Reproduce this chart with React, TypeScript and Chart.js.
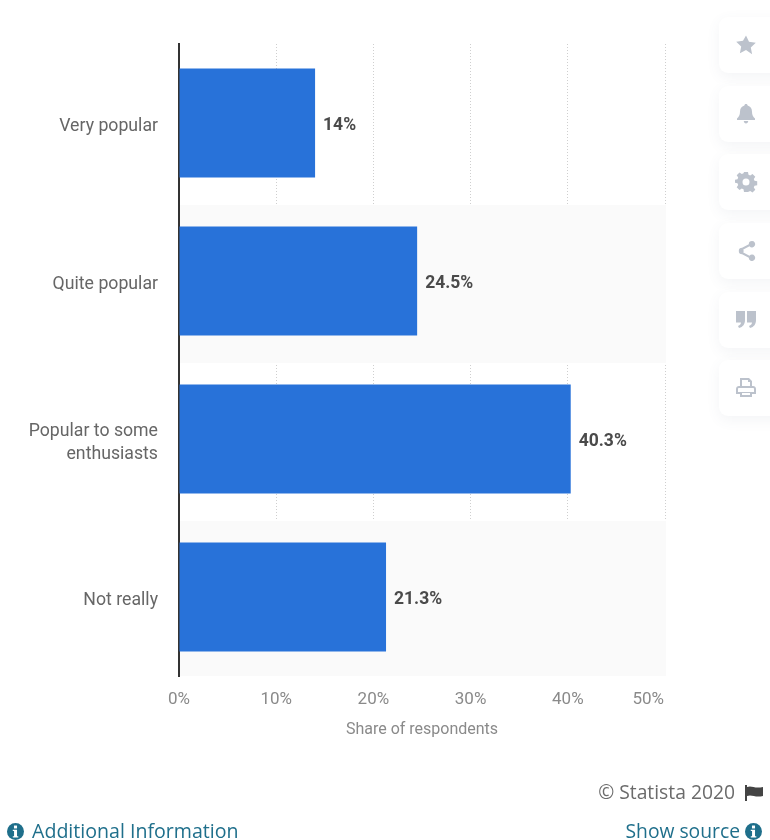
import React, { useEffect, useRef } from "react";
import { Chart, registerables } from "chart.js";

Chart.register(...registerables);

const categories: (string | string[])[] = ["Very popular", "Quite popular", ["Popular to some", "enthusiasts"], "Not really"];
const shares = [14, 24.5, 40.3, 21.3];
const shareLabels = ["14%", "24.5%", "40.3%", "21.3%"];
const axisTitle = "Share of respondents";

const BLUE = "#2872d9";
const TICK = "#8a8a8a";

const overlayPlugin = {
  id: "overlay",
  beforeDraw(chart: any) {
    const { x, y } = chart.scales;
    // y labels sit a little below the bar centres; the last x label ends at the plot edge
    const yItems = y.getLabelItems(chart.chartArea);
    if (!yItems.__moved) {
      yItems.__moved = true;
      yItems.forEach((it: any) => {
        it.options.translation[1] += 4;
      });
    }
    const xItems = x.getLabelItems(chart.chartArea);
    if (!xItems.__moved) {
      xItems.__moved = true;
      const last = xItems[xItems.length - 1];
      last.options.textAlign = "right";
      last.options.translation[0] = x.right - 1;
    }
  },
  beforeDatasetsDraw(chart: any) {
    const { ctx, scales } = chart;
    const y = scales.y;
    const x = scales.x;
    const step = y.getPixelForValue(1) - y.getPixelForValue(0);
    ctx.save();
    ctx.fillStyle = "#fafafa";
    [1, 3].forEach((i) => {
      const c = y.getPixelForValue(i);
      const top = c + 3 - step / 2;
      const bottom = Math.min(c + 3 + step / 2, y.bottom);
      ctx.fillRect(x.left + 1, top, x.right - x.left, bottom - top);
    });
    ctx.restore();
  },
  afterDatasetsDraw(chart: any) {
    const { ctx, scales } = chart;
    const x = scales.x;
    const y = scales.y;
    ctx.save();
    ctx.fillStyle = "#4a4a4a";
    ctx.font = "bold 17.5px Roboto";
    ctx.textAlign = "left";
    ctx.textBaseline = "middle";
    shares.forEach((v, i) => {
      ctx.fillText(shareLabels[i], x.getPixelForValue(v) + 8, y.getPixelForValue(i) + 3);
    });
    ctx.restore();
  },
};

const cardTops = [17, 86, 154, 223, 292, 360];
const iconColor = "#bcc2cc";
const icons: React.ReactNode[] = [
  <path d="M10 0.5l3 6.3 6.8.9-5 4.7 1.3 6.8L10 15l-6.1 3.2 1.3-6.8-5-4.7 6.8-.9z" />,
  <path d="M10 0c1 0 1.6.7 1.6 1.6 3 .8 4.4 3.2 4.4 6.2 0 3.6 1.2 5 3 6.7v1.5H1v-1.5c1.800-1.700 3-3.100 3-6.700 0-3 1.400-5.400 4.400-6.200C8.400.7 9 0 10 0zM7.800 17h4.400c0 1.400-1 2.500-2.200 2.500S7.800 18.400 7.800 17z" />,
  <path fillRule="evenodd" d="M8 0h4l.5 2.700 1.700.7 2.300-1.500 2.800 2.800-1.500 2.300.7 1.700 2.700.5v4l-2.700.5-.7 1.700 1.500 2.300-2.800 2.800-2.300-1.500-1.700.7L12 20H8l-.5-2.700-1.700-.7-2.300 1.500L.7 15.300l1.500-2.300-.7-1.700L-1 10.800v-3l2.500-.5.700-1.700L.7 3.300 3.500.5l2.300 1.500 1.700-.7zM10 6.500a3.500 3.500 0 1 0 0 7 3.500 3.500 0 0 0 0-7z" />,
  <path d="M16 0a3.200 3.200 0 1 1-2.500 5.200L7.300 8.500a3.300 3.300 0 0 1 0 3l6.200 3.300A3.200 3.200 0 1 1 12.800 17v-.2l-6.700-3.500a3.300 3.300 0 1 1 0-6.600l6.700-3.500V3.200A3.200 3.200 0 0 1 16 0z" />,
  <path d="M0 1h9v9c0 4-2 7-6 8l-1-2c2-.7 3-2 3-3.500H0zM11 1h9v9c0 4-2 7-6 8l-1-2c2-.7 3-2 3-3.500h-5z" />,
  <path fillRule="evenodd" d="M4 0h9l3 3v5h1c1.700 0 3 1.300 3 3v5h-4v3H4v-3H0v-5c0-1.700 1.300-3 3-3h1zM6 2v6h8V4h-2V2zM2 11v3h16v-3c0-.6-.4-1-1-1H3c-.6 0-1 .4-1 1zM6 15v2h8v-2z" />,
];

const infoIcon = (
  <svg width="17" height="17" viewBox="0 0 20 20" style={{ display: "block" }}>
    <circle cx="10" cy="10" r="10" fill="#1f6f8b" />
    <rect x="8.200" y="3" width="3.600" height="3.400" fill="#fff" />
    <path d="M6.800 8h5v7.500h1.500V17H6.800v-1.500h1.500V9.500H6.800z" fill="#fff" />
  </svg>
);

const footerText: React.CSSProperties = {
  position: "absolute",
  fontFamily: "'Open Sans', sans-serif",
  whiteSpace: "nowrap",
  lineHeight: "24px",
};

export default function App() {
  const ref = useRef<HTMLCanvasElement>(null);

  useEffect(() => {
    document.body.style.margin = "0";
    const chart = new Chart(ref.current!, {
      type: "bar",
      data: {
        labels: categories as any,
        datasets: [
          {
            data: shares,
            backgroundColor: BLUE,
            borderWidth: 0,
            barPercentage: 0.69,
            categoryPercentage: 1,
          },
        ],
      },
      plugins: [overlayPlugin],
      options: {
        indexAxis: "y",
        animation: false,
        responsive: false,
        devicePixelRatio: 1,
        layout: { padding: { top: 44, right: 105, left: 0, bottom: 100 } },
        plugins: { legend: { display: false }, tooltip: { enabled: false }, title: { display: false } },
        scales: {
          x: {
            type: "linear",
            min: 0,
            max: 50,
            afterFit: (s: any) => {
              s.height = 64;
            },
            ticks: {
              stepSize: 10,
              maxRotation: 0,
              padding: 14,
              color: TICK,
              font: { family: "Roboto", size: 17 },
              callback: (v: any) => `${v}%`,
            },
            grid: {
              drawTicks: false,
              color: (c: any) => (c.tick && c.tick.value === 0 ? "rgba(0,0,0,0)" : "#cfcfcf"),
              lineWidth: 1,
            },
            border: { display: false, dash: [1, 2] },
            title: {
              display: true,
              text: axisTitle,
              color: TICK,
              font: { family: "Roboto", size: 16 },
              padding: { top: 8, bottom: 0 },
            },
          },
          y: {
            type: "category",
            afterFit: (s: any) => {
              s.width = 179;
            },
            ticks: {
              padding: 21,
              color: "#666666",
              font: { family: "Roboto", size: 17.7, lineHeight: 1.3 },
            },
            grid: { display: false, drawTicks: false },
            border: { display: true, color: "#333333", width: 2 },
          },
        },
      } as any,
    });
    return () => chart.destroy();
  }, []);

  return (
    <div style={{ position: "absolute", left: 0, top: 0, width: 770, height: 840, overflow: "hidden", background: "#fff" }}>
      <canvas ref={ref} width={770} height={840} style={{ position: "absolute", left: 0, top: 0 }} />
      {cardTops.map((top, i) => (
        <div
          key={top}
          style={{
            position: "absolute",
            left: 719,
            top,
            width: 70,
            height: 56,
            borderRadius: 9,
            background: "#fff",
            boxShadow: "0 4px 14px rgba(90,100,130,0.07)",
          }}
        >
          <svg width="20" height="20" viewBox="0 0 20 20" fill={iconColor} style={{ position: "absolute", left: 17, top: 18, overflow: "visible" }}>
            {icons[i]}
          </svg>
        </div>
      ))}
      <div style={{ ...footerText, right: 35, top: 780, fontSize: 19.3, color: "#6b6b6b" }}>© Statista 2020</div>
      <svg width="20" height="16" viewBox="0 0 20 16" style={{ position: "absolute", left: 745, top: 785 }}>
        <rect x="0" y="0" width="2" height="16" fill="#444" />
        <path d="M2 2c5-2 7 2 16 0v9c-8 2-11-2-16 0z" fill="#444" />
      </svg>
      <div style={{ position: "absolute", left: 7, top: 823 }}>{infoIcon}</div>
      <div style={{ ...footerText, left: 32, top: 819, fontSize: 19.6, color: "#1f6f8b" }}>Additional Information</div>
      <div style={{ ...footerText, right: 30, top: 819, fontSize: 19.3, color: "#1f6f8b" }}>Show source</div>
      <div style={{ position: "absolute", left: 745, top: 823 }}>{infoIcon}</div>
    </div>
  );
}
